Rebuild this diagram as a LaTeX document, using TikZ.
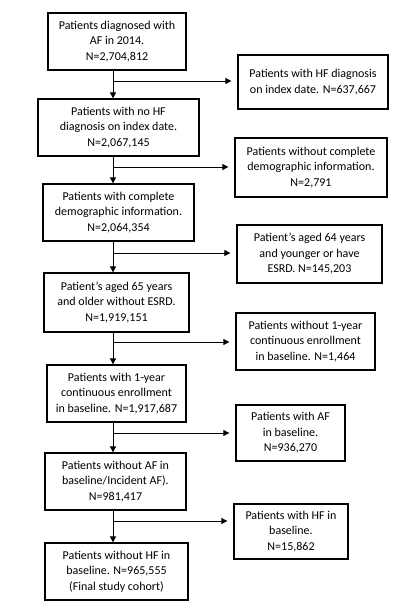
\documentclass[tikz,border=0pt]{standalone}
\usepackage{fontspec}
\setmainfont{Carlito}
\usetikzlibrary{arrows.meta}
\begin{document}
\begin{tikzpicture}[x=1pt,y=-1pt,
  box/.style={draw, line width=1.3pt, align=center, inner sep=0pt,
    font=\fontsize{12}{15.5}\selectfont},
  flow/.style={line width=0.8pt, -{Triangle[length=6pt,width=6pt]}}]
\useasboundingbox[fill=white] (0,0) rectangle (418,614);
% left column
\node[box, minimum width=138, minimum height=57] (b1) at (117,41.5) {Patients diagnosed with\\AF in 2014.\\N=2,704,812};
\node[box, minimum width=161, minimum height=57] (b2) at (118.5,127.5) {Patients with no HF\\diagnosis on index date.\\N=2,067,145};
\node[box, minimum width=151, minimum height=57] (b3) at (118.5,212.5) {Patients with complete\\demographic information.\\N=2,064,354};
\node[box, minimum width=145, minimum height=59] (b4) at (116.5,302.5) {Patient’s aged 65 years\\and older without ESRD.\\N=1,919,151};
\node[box, minimum width=139, minimum height=57] (b5) at (116.5,393.5) {Patients with 1-year\\continuous enrollment\\in baseline. N=1,917,687};
\node[box, minimum width=141, minimum height=57] (b6) at (115.5,481.5) {Patients without AF in\\baseline/Incident AF).\\N=981,417};
\node[box, minimum width=143, minimum height=57] (b7) at (116.5,571.5) {Patients without HF in\\baseline. N=965,555\\(Final study cohort)};
% right column
\node[box, minimum width=150, minimum height=54] (r1) at (313,82) {Patients with HF diagnosis\\on index date. N=637,667};
\node[box, minimum width=152, minimum height=59] (r2) at (311,167.5) {Patients without complete\\demographic information.\\N=2,791};
\node[box, minimum width=145, minimum height=58] (r3) at (309.5,254) {Patient’s aged 64 years\\and younger or have\\ESRD. N=145,203};
\node[box, minimum width=139, minimum height=57] (r4) at (305.5,341.5) {Patients without 1-year\\continuous enrollment\\in baseline. N=1,464};
\node[box, minimum width=109, minimum height=56] (r5) at (290.5,433) {Patients with AF\\in baseline.\\N=936,270};
\node[box, minimum width=114, minimum height=55] (r6) at (291,531.5) {Patients with HF in\\baseline.\\N=15,862};
% branch points on the main line
\coordinate (c1) at (113,81);
\coordinate (c2) at (113,167);
\coordinate (c3) at (113,253);
\coordinate (c4) at (113,342);
\coordinate (c5) at (113,433);
\coordinate (c6) at (113,521);
% vertical arrows
\foreach \a/\b/\c in {b1/b2/c1,b2/b3/c2,b3/b4/c3,b4/b5/c4,b5/b6/c5,b6/b7/c6}
  \draw[flow] (\a.south -| \c) -- (\b.north -| \c);
% horizontal arrows
\foreach \c/\r in {c1/r1,c2/r2,c3/r3,c4/r4,c5/r5,c6/r6}
  \draw[flow, shorten >=6pt] (\c) -- (\r.west |- \c);
\end{tikzpicture}
\end{document}
